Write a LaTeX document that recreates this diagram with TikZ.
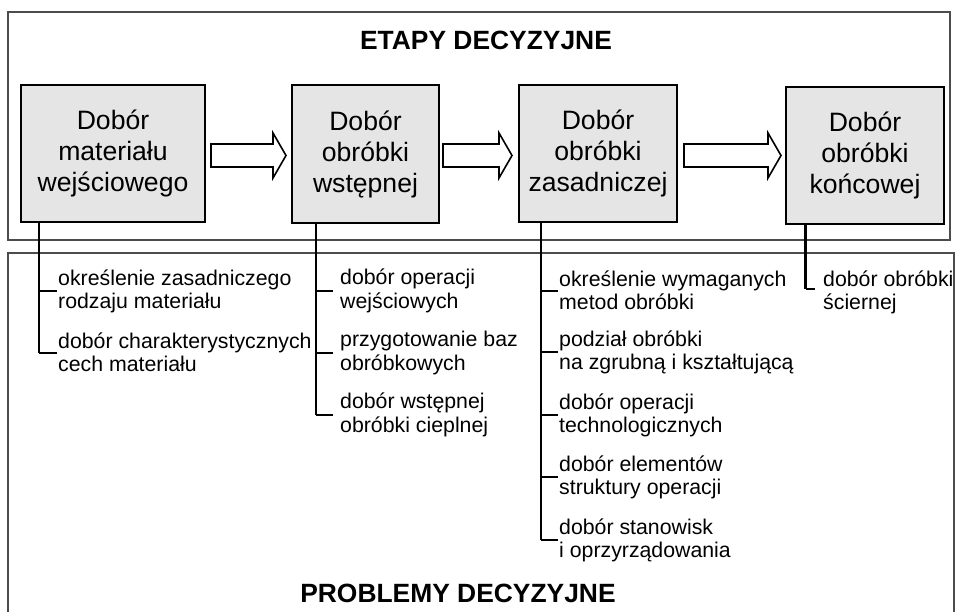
\documentclass[tikz,border=0pt]{standalone}
\usepackage{fontspec}
\setmainfont{Liberation Sans}
\usetikzlibrary{calc}
\newcommand\itm[2]{\strut#1\\#2\rule[-1.6pt]{0pt}{1pt}}
\newcommand\blockarrow[2]{\draw[blk] ($(#1)+(0,-11.5)$) -- ($(#2)+(-13,-11.5)$) -- ($(#2)+(-13,-22.5)$) -- (#2) -- ($(#2)+(-13,22.5)$) -- ($(#2)+(-13,11.5)$) -- ($(#1)+(0,11.5)$) -- cycle;}
\begin{document}
\begin{tikzpicture}[x=1pt,y=-1pt,
 frame/.style={draw=black!70, line width=1.2pt},
 stage/.style={draw=black, line width=2pt, fill=black!10, align=center, inner sep=0pt, font=\fontsize{26.6}{31}\selectfont},
 item/.style={anchor=west, align=left, inner sep=0pt, font=\fontsize{21.3}{22}\selectfont},
 spine/.style={draw=black, line width=2.6pt},
 tick/.style={draw=black, line width=2pt},
 blk/.style={draw=black, line width=1.6pt, fill=white, line join=miter},
 title/.style={font=\bfseries\fontsize{26.4}{30}\selectfont, inner sep=0pt}]
\useasboundingbox (0,0) rectangle (956,612);
\fill[white] (0,0) rectangle (956,612);
% frames
\draw[frame] (8,12) rectangle (950,240);
\draw[frame] (8,640) -- (8,253) -- (954,253) -- (954,640);
\node[title] (etapy) at (486,40) {ETAPY DECYZYJNE};
\node[title] (probl) at (458,593.5) {PROBLEMY DECYZYJNE};
% stage boxes
\node[stage, minimum width=184, minimum height=137] (b1) at (113,153.5) {Dobór\\materiału\\wejściowego};
\node[stage, minimum width=147, minimum height=138] (b2) at (365.5,154) {Dobór\\obróbki\\wstępnej};
\node[stage, minimum width=158, minimum height=137] (b3) at (598,153.5) {Dobór\\obróbki\\zasadniczej};
\node[stage, minimum width=158, minimum height=137] (b4) at (865,155.5) {Dobór\\obróbki\\końcowej};
% block arrows
\coordinate (a1s) at ($(b1.east)+(5,2)$);
\coordinate (a1t) at ($(b2.west)+(-5,1.5)$);
\coordinate (a2s) at ($(b2.east)+(3,1.5)$);
\coordinate (a2t) at ($(b3.west)+(-6,2)$);
\coordinate (a3s) at ($(b3.east)+(6,2)$);
\coordinate (a3t) at ($(b4.west)+(-4,0)$);
\blockarrow{a1s}{a1t}
\blockarrow{a2s}{a2t}
\blockarrow{a3s}{a3t}
% items box 1
\node[item] (i11) at (58,291) {\itm{określenie zasadniczego}{rodzaju materiału}};
\node[item] (i12) at (58,353) {\itm{dobór charakterystycznych}{cech materiału}};
% items box 2
\node[item] (i21) at (340,291) {\itm{dobór operacji}{wejściowych}};
\node[item] (i22) at (340,353) {\itm{przygotowanie baz}{obróbkowych}};
\node[item] (i23) at (340,415) {\itm{dobór wstępnej}{obróbki cieplnej}};
% items box 3
\node[item] (i31) at (559,291) {\itm{określenie wymaganych}{metod obróbki}};
\node[item] (i32) at (559,352) {\itm{podział obróbki}{na zgrubną i kształtującą}};
\node[item] (i33) at (559,415) {\itm{dobór operacji}{technologicznych}};
\node[item] (i34) at (559,477) {\itm{dobór elementów}{struktury operacji}};
\node[item] (i35) at (559,540) {\itm{dobór stanowisk}{i oprzyrządowania}};
% items box 4
\node[item] (i41) at (823,292.5) {\itm{dobór obróbki}{ściernej}};
% spines
\coordinate (s1) at ($(b1.south west)+(19,0)$);
\coordinate (s2) at ($(b2.south west)+(25,0)$);
\coordinate (s3) at ($(b3.south west)+(23,0)$);
\coordinate (s4) at ($(b4.south west)+(20.5,0)$);
\coordinate (e41) at ($(i41.west)+(-8,-3.5)$);
\draw[spine] (s1) -- (s1 |- i12.west);
\draw[spine] (s2) -- (s2 |- i23.west);
\draw[spine] (s3) -- (s3 |- i35.west);
\draw[spine] (s4) -- (s4 |- e41);
% ticks
\foreach \i in {i11,i12} {\draw[tick] (s1 |- \i.west) -- ($(\i.west)+(-1,0)$);}
\foreach \i in {i21,i22,i23} {\draw[tick] (s2 |- \i.west) -- ($(\i.west)+(-7,0)$);}
\foreach \i in {i31,i32,i33,i34,i35} {\draw[tick] (s3 |- \i.west) -- ($(\i.west)+(-1,0)$);}
\draw[tick] (s4 |- e41) -- (e41);
\end{tikzpicture}
\end{document}
